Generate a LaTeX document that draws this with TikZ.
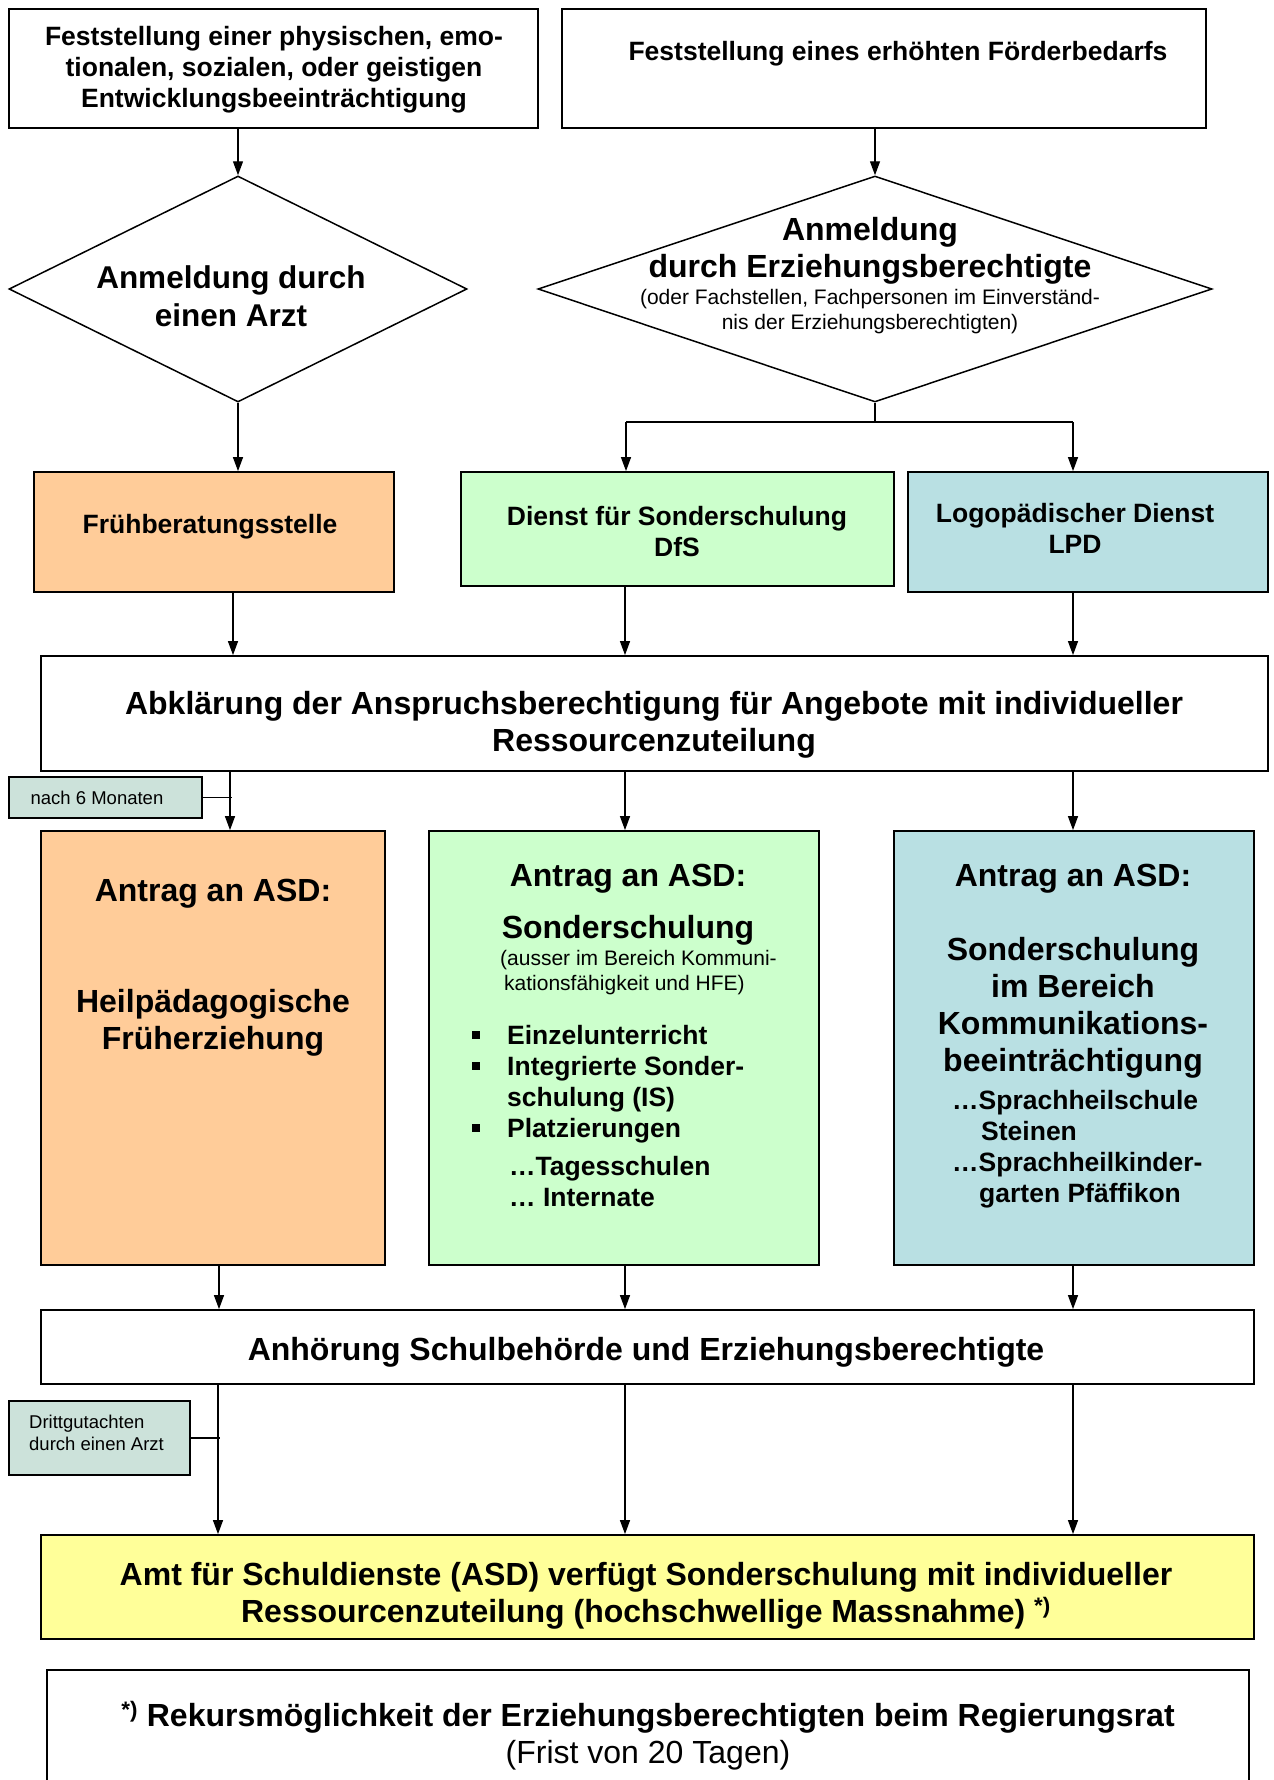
\documentclass[tikz,border=0pt]{standalone}
\usepackage{fontspec}
\setmainfont{Liberation Sans}
\usetikzlibrary{arrows.meta,shapes.geometric}
\definecolor{cOrange}{HTML}{FFCC99}
\definecolor{cGreen}{HTML}{CCFFCC}
\definecolor{cBlue}{HTML}{B9E0E3}
\definecolor{cGray}{HTML}{CCE2DA}
\definecolor{cYellow}{HTML}{FFFF99}
\newcommand{\myfsA}{\fontsize{32}{37}\selectfont\bfseries}
\newcommand{\myfsB}{\fontsize{26.5}{31}\selectfont\bfseries}
\newcommand{\myfsC}{\fontsize{21}{24.5}\selectfont}
\newcommand{\myfsD}{\fontsize{18.5}{22}\selectfont}
\newcommand{\mybul}{\makebox[37pt][l]{\hspace*{2pt}\rule[5pt]{8pt}{8pt}}}
\begin{document}
\begin{tikzpicture}[x=1pt,y=-1pt,
  box/.style={draw, line width=1.8pt, inner sep=0pt, rectangle},
  dia/.style={draw, line width=1.5pt, inner sep=0pt, diamond},
  arr/.style={line width=1.3pt, -{Triangle[length=14pt,width=10pt]}},
  ln/.style={line width=1.3pt},
  txt/.style={inner sep=0pt, align=center}]
\useasboundingbox (0,0) rectangle (1274,1780);
\fill[white] (0,0) rectangle (1274,1780);
\clip (0,0) rectangle (1274,1780);

% boxes
\node[box, minimum width=529pt, minimum height=119pt] (b1) at (273.5,68.5) {};
\node[box, minimum width=644pt, minimum height=119pt] (b2) at (884,68.5) {};
\node[dia, minimum width=458pt, minimum height=226pt] (d1) at (238,289) {};
\node[dia, minimum width=674pt, minimum height=226pt] (d2) at (875,289) {};
\node[box, fill=cOrange, minimum width=360pt, minimum height=120pt] (frueh) at (214,532) {};
\node[box, fill=cGreen, minimum width=433pt, minimum height=114pt] (dfs) at (677.5,529) {};
\node[box, fill=cBlue, minimum width=360pt, minimum height=120pt] (lpd) at (1088,532) {};
\node[box, minimum width=1227pt, minimum height=115pt] (abk) at (654.5,713.5) {};
\node[box, fill=cGray, line width=1.6pt, minimum width=193pt, minimum height=41pt] (nach) at (105.5,797.5) {};
\node[box, fill=cOrange, minimum width=344pt, minimum height=434pt] (antL) at (213,1048) {};
\node[box, fill=cGreen, minimum width=390pt, minimum height=434pt] (antM) at (624,1048) {};
\node[box, fill=cBlue, minimum width=360pt, minimum height=434pt] (antR) at (1074,1048) {};
\node[box, minimum width=1213pt, minimum height=74pt] (anh) at (647.5,1347) {};
\node[box, fill=cGray, line width=1.6pt, minimum width=181pt, minimum height=74pt] (dritt) at (99.5,1438) {};
\node[box, fill=cYellow, minimum width=1213pt, minimum height=104pt] (amt) at (647.5,1587) {};
\node[box, minimum width=1202pt, minimum height=140pt, anchor=north] (rek) at (648,1669) {};

% texts
\node[txt, font=\myfsB] (t1) at (274,69.5) {Feststellung einer physischen, emo-\\tionalen, sozialen, oder geistigen\\Entwicklungsbeeinträchtigung};
\node[txt, font=\myfsB] (t2) at (898,53.5) {Feststellung eines erhöhten Förderbedarfs};
\node[txt, font=\fontsize{31.5}{38}\selectfont\bfseries] (td1) at (231,296) {Anmeldung durch\\einen Arzt};
\node[txt, font=\myfsA] (td2a) at (870,251) {Anmeldung\\durch Erziehungsberechtigte};
\node[txt, font=\myfsC] (td2b) at (870,311.5) {(oder Fachstellen, Fachpersonen im Einverständ-\\nis der Erziehungsberechtigten)};
\node[txt, font=\myfsB] (tfr) at (210,526.5) {Frühberatungsstelle};
\node[txt, font=\myfsB] (tdfs) at (677,532) {Dienst für Sonderschulung\\DfS};
\node[txt, font=\myfsB] (tlpd) at (1075,528.5) {Logopädischer Dienst\\LPD};
\node[txt, font=\myfsA] (tabk) at (654,725) {Abklärung der Anspruchsberechtigung für Angebote mit individueller\\Ressourcenzuteilung};
\node[txt, font=\myfsD] (tnach) at (97,798) {nach 6 Monaten};
\node[txt, font=\myfsA] (tLa) at (213,893.5) {Antrag an ASD:};
\node[txt, font=\myfsA] (tLb) at (213,1023) {Heilpädagogische\\Früherziehung};
\node[txt, font=\myfsA] (tMa) at (628,878.5) {Antrag an ASD:};
\node[txt, font=\myfsA] (tMb) at (628,930.5) {Sonderschulung};
\node[txt, font=\myfsC, align=left, anchor=west] (tMc) at (500,972.5) {(ausser im Bereich Kommuni-\\\hspace*{4pt}kationsfähigkeit und HFE)};
\node[txt, font=\myfsB, align=left, anchor=west] (tMd) at (470,1084) {\mybul Einzelunterricht\\\mybul Integrierte Sonder-\\\hspace*{37pt}schulung (IS)\\\mybul Platzierungen};
\node[txt, font=\myfsB, align=left, anchor=west] (tMe) at (509,1181.5) {…Tagesschulen\\… Internate};
\node[txt, font=\myfsA] (tRa) at (1073,878.5) {Antrag an ASD:};
\node[txt, font=\myfsA] (tRb) at (1073,1007.5) {Sonderschulung\\im Bereich\\Kommunikations-\\beeinträchtigung};
\node[txt, font=\myfsB, align=left, anchor=west] (tRc) at (952,1149) {…Sprachheilschule\\\hspace*{29pt}Steinen\\…Sprachheilkinder-\\\hspace*{27pt}garten Pfäffikon};
\node[txt, font=\myfsA] (tanh) at (646,1352.5) {Anhörung Schulbehörde und Erziehungsberechtigte};
\node[txt, font=\myfsD, align=left, anchor=west] (tdritt) at (29,1433) {Drittgutachten\\durch einen Arzt};
\node[txt, font=\myfsA] (tamt) at (646,1595.5) {Amt für Schuldienste (ASD) verfügt Sonderschulung mit individueller\\Ressourcenzuteilung (hochschwellige Massnahme) \textsuperscript{*)}};
\node[txt, font=\myfsA] (trek) at (648,1736) {\textsuperscript{*)} Rekursmöglichkeit der Erziehungsberechtigten beim Regierungsrat\\\mdseries (Frist von 20 Tagen)};

% column coordinates
\coordinate (k1) at (233,0);
\coordinate (k2) at (230,0);
\coordinate (k3) at (219,0);
\coordinate (k4) at (218,0);
\coordinate (m1) at (625,0);
\coordinate (rr) at (1073,0);
\coordinate (br) at (875,422);
\coordinate (brL) at (626,422);
\coordinate (brR) at (1073,422);

% connectors
\draw[arr] (d1.north |- b1.south) -- (d1.north);
\draw[arr] (d2.north |- b2.south) -- (d2.north);
\draw[arr] (d1.south) -- (d1.south |- frueh.north);
\draw[ln] (d2.south) -- (br);
\draw[ln] (brL) -- (brR);
\draw[arr] (brL) -- (brL |- dfs.north);
\draw[arr] (brR) -- (brR |- lpd.north);
\draw[arr] (k1 |- frueh.south) -- (k1 |- abk.north);
\draw[arr] (m1 |- dfs.south) -- (m1 |- abk.north);
\draw[arr] (rr |- lpd.south) -- (rr |- abk.north);
\draw[arr] (k2 |- abk.south) -- (k2 |- antL.north);
\draw[arr] (m1 |- abk.south) -- (m1 |- antM.north);
\draw[arr] (rr |- abk.south) -- (rr |- antR.north);
\draw[ln] (nach.east) -- ([xshift=2pt]k2 |- nach.east);
\draw[arr] (k3 |- antL.south) -- (k3 |- anh.north);
\draw[arr] (m1 |- antM.south) -- (m1 |- anh.north);
\draw[arr] (rr |- antR.south) -- (rr |- anh.north);
\draw[arr] (k4 |- anh.south) -- (k4 |- amt.north);
\draw[arr] (m1 |- anh.south) -- (m1 |- amt.north);
\draw[arr] (rr |- anh.south) -- (rr |- amt.north);
\draw[ln] (dritt.east) -- ([xshift=2pt]k4 |- dritt.east);
\end{tikzpicture}
\end{document}
